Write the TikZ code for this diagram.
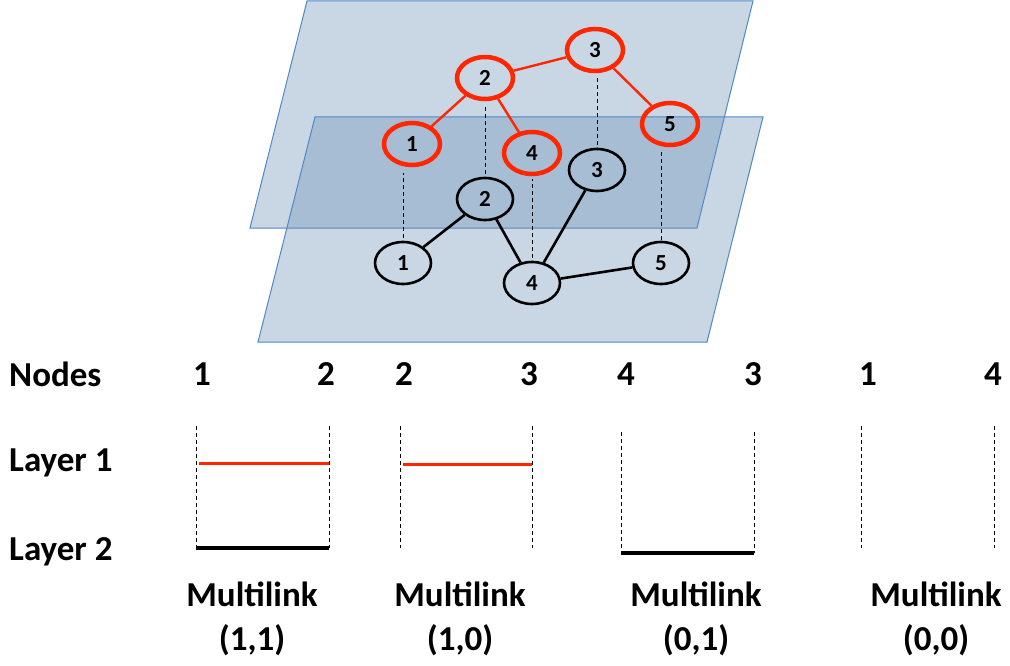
\documentclass[tikz,border=0pt]{standalone}
\usepackage{fontspec}
\setmainfont{Carlito}
\usetikzlibrary{shapes.geometric}
\definecolor{planeedge}{RGB}{80,135,200}
\definecolor{planefill}{RGB}{100,140,180}
\definecolor{linkred}{RGB}{255,38,0}
\tikzset{
  plane/.style={draw=planeedge, line width=1pt, fill=planefill, fill opacity=0.35},
  rnode/.style={ellipse, draw=linkred, line width=4.5pt, minimum width=56pt, minimum height=42pt, inner sep=0pt, font=\fontsize{23}{26}\selectfont\bfseries},
  bnode/.style={ellipse, draw=black, line width=2.6pt, minimum width=56pt, minimum height=42pt, inner sep=0pt, font=\fontsize{23}{26}\selectfont\bfseries},
  redge/.style={draw=linkred, line width=2.4pt},
  bedge/.style={draw=black, line width=2.6pt},
  vdash/.style={draw=black, line width=1pt, dash pattern=on 4pt off 3pt},
  lbl/.style={inner sep=0pt, font=\fontsize{35}{40}\selectfont\bfseries},
  num/.style={inner sep=0pt, font=\fontsize{35}{40}\selectfont\bfseries},
  ml/.style={inner sep=0pt, align=center, font=\fontsize{35}{44}\selectfont\bfseries},
  rlink/.style={draw=linkred, line width=3pt},
  blink/.style={draw=black, line width=3.5pt}
}
\begin{document}
\begin{tikzpicture}[x=1pt,y=-1pt]
\useasboundingbox (0,0) rectangle (1010,666);
% planes
\path[plane] (307,1) -- (753,1) -- (697,228) -- (250,228) -- cycle;
\path[plane] (315,117) -- (763,117) -- (707,342) -- (258,342) -- cycle;
% top layer nodes
\node[rnode] (r1) at (412,144) {1};
\node[rnode] (r2) at (485,78) {2};
\node[rnode] (r3) at (595,50) {3};
\node[rnode] (r4) at (532,153) {4};
\node[rnode] (r5) at (670,124) {5};
% bottom layer nodes
\node[bnode] (b1) at (403,263) {1};
\node[bnode] (b2) at (485,199) {2};
\node[bnode] (b3) at (597,170) {3};
\node[bnode] (b4) at (532,283) {4};
\node[bnode] (b5) at (661,263) {5};
% red edges
\draw[redge] (r2) -- (r3);
\draw[redge] (r2) -- (r1);
\draw[redge] (r2) -- (r4);
\draw[redge] (r3) -- (r5);
% black edges
\draw[bedge] (b1) -- (b2);
\draw[bedge] (b2) -- (b4);
\draw[bedge] (b3) -- (b4);
\draw[bedge] (b4) -- (b5);
% interlayer dashed
\draw[vdash, shorten <=3pt, shorten >=6pt] (b1.north) -- (b1.north |- r1.south);
\draw[vdash, shorten <=3pt, shorten >=3pt] (b2.north) -- (b2.north |- r2.south);
\draw[vdash, shorten <=3pt, shorten >=3pt] (b3.north) -- (b3.north |- r3.south);
\draw[vdash, shorten <=3pt, shorten >=3pt] (b4.north) -- (b4.north |- r4.south);
\draw[vdash, shorten <=1pt, shorten >=2pt] (b5.north) -- (b5.north |- r5.south);
% row labels
\node[lbl, anchor=west] (nodes) at (9,374) {Nodes};
\node[lbl, anchor=west] (l1) at (9,463) {Layer 1};
\node[lbl, anchor=west] (l2) at (9,552) {Layer 2};
% node numbers
\node[num] (n11) at (202,374) {1};
\node[num] (n12) at (326,374) {2};
\node[num] (n21) at (404,374) {2};
\node[num] (n22) at (529,374) {3};
\node[num] (n31) at (626,374) {4};
\node[num] (n32) at (753,374) {3};
\node[num] (n41) at (868,374) {1};
\node[num] (n42) at (993,374) {4};
% group 1
\coordinate (g1at) at (196,426); \coordinate (g1ab) at (196,548);
\coordinate (g1bt) at (329,426); \coordinate (g1bb) at (329,548);
\draw[vdash] (g1at) -- (g1ab);
\draw[vdash] (g1bt) -- (g1bb);
\coordinate (g1r1) at (199,463); \coordinate (g1r2) at (329,463);
\draw[rlink] (g1r1) -- (g1r2);
\draw[blink] (g1ab) -- (g1bb);
% group 2
\coordinate (g2at) at (400,426); \coordinate (g2ab) at (400,548);
\coordinate (g2bt) at (532,426); \coordinate (g2bb) at (532,548);
\draw[vdash] (g2at) -- (g2ab);
\draw[vdash] (g2bt) -- (g2bb);
\coordinate (g2r1) at (403,464); \coordinate (g2r2) at (532,464);
\draw[rlink] (g2r1) -- (g2r2);
% group 3
\coordinate (g3at) at (621,432); \coordinate (g3ab) at (621,553);
\coordinate (g3bt) at (754,432); \coordinate (g3bb) at (754,553);
\draw[vdash] (g3at) -- (g3ab);
\draw[vdash] (g3bt) -- (g3bb);
\draw[blink] (g3ab) -- (g3bb);
% group 4
\coordinate (g4at) at (861,426); \coordinate (g4ab) at (861,548);
\coordinate (g4bt) at (994,426); \coordinate (g4bb) at (994,548);
\draw[vdash] (g4at) -- (g4ab);
\draw[vdash] (g4bt) -- (g4bb);
% multilink labels
\node[ml] (m1) at (252,619) {Multilink\\(1,1)};
\node[ml] (m2) at (460,619) {Multilink\\(1,0)};
\node[ml] (m3) at (696,619) {Multilink\\(0,1)};
\node[ml] (m4) at (936,619) {Multilink\\(0,0)};
\end{tikzpicture}
\end{document}
